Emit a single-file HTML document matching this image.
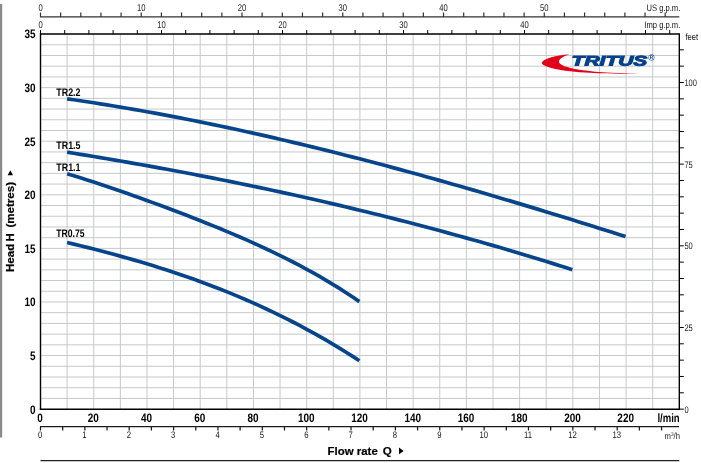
<!DOCTYPE html>
<html lang="en"><head><meta charset="utf-8"><title>TRITUS pump performance curves</title>
<style>html,body{margin:0;padding:0;background:#fff}svg{display:block}</style></head>
<body>
<svg width="701" height="463" viewBox="0 0 701 463" font-family="'Liberation Sans', sans-serif">
<rect width="701" height="463" fill="#fff"/>
<rect x="0" y="4" width="2.2" height="433.5" fill="#8a8a8a"/>
<path d="M67.12 34.05V409.15M93.73 34.05V409.15M120.35 34.05V409.15M146.97 34.05V409.15M173.59 34.05V409.15M200.20 34.05V409.15M226.82 34.05V409.15M253.44 34.05V409.15M280.05 34.05V409.15M306.67 34.05V409.15M333.29 34.05V409.15M359.90 34.05V409.15M386.52 34.05V409.15M413.14 34.05V409.15M439.76 34.05V409.15M466.37 34.05V409.15M492.99 34.05V409.15M519.61 34.05V409.15M546.22 34.05V409.15M572.84 34.05V409.15M599.46 34.05V409.15M626.07 34.05V409.15M652.69 34.05V409.15M40.50 398.43H679.31M40.50 387.71H679.31M40.50 376.99H679.31M40.50 366.28H679.31M40.50 355.56H679.31M40.50 344.84H679.31M40.50 334.13H679.31M40.50 323.41H679.31M40.50 312.69H679.31M40.50 301.98H679.31M40.50 291.26H679.31M40.50 280.54H679.31M40.50 269.82H679.31M40.50 259.11H679.31M40.50 248.39H679.31M40.50 237.67H679.31M40.50 226.96H679.31M40.50 216.24H679.31M40.50 205.52H679.31M40.50 194.81H679.31M40.50 184.09H679.31M40.50 173.37H679.31M40.50 162.65H679.31M40.50 151.94H679.31M40.50 141.22H679.31M40.50 130.50H679.31M40.50 119.79H679.31M40.50 109.07H679.31M40.50 98.35H679.31M40.50 87.63H679.31M40.50 76.92H679.31M40.50 66.20H679.31M40.50 55.48H679.31M40.50 44.77H679.31" stroke="#c7c8c9" stroke-width="1" fill="none"/>
<path d="M67.12 98.82L73.76 99.78L80.41 100.76L87.06 101.76L93.71 102.78L100.36 103.83L107.00 104.89L113.65 105.98L120.30 107.08L126.95 108.21L133.60 109.35L140.24 110.52L146.89 111.70L153.54 112.90L160.19 114.13L166.84 115.37L173.48 116.63L180.13 117.91L186.78 119.21L193.43 120.52L200.08 121.86L206.72 123.21L213.37 124.58L220.02 125.97L226.67 127.37L233.31 128.79L239.96 130.23L246.61 131.69L253.26 133.16L259.91 134.65L266.55 136.15L273.20 137.67L279.85 139.21L286.50 140.76L293.15 142.33L299.79 143.92L306.44 145.51L313.09 147.13L319.74 148.76L326.39 150.40L333.03 152.06L339.68 153.73L346.33 155.42L352.98 157.12L359.63 158.83L366.27 160.56L372.92 162.30L379.57 164.05L386.22 165.82L392.86 167.60L399.51 169.39L406.16 171.20L412.81 173.01L419.46 174.84L426.10 176.68L432.75 178.54L439.40 180.40L446.05 182.28L452.70 184.17L459.34 186.06L465.99 187.97L472.64 189.89L479.29 191.82L485.94 193.76L492.58 195.71L499.23 197.67L505.88 199.65L512.53 201.62L519.18 203.61L525.82 205.61L532.47 207.62L539.12 209.64L545.77 211.66L552.41 213.70L559.06 215.74L565.71 217.79L572.36 219.85L579.01 221.91L585.65 223.98L592.30 226.07L598.95 228.15L605.60 230.25L612.25 232.35L618.89 234.46L625.54 236.57" stroke="#06458c" stroke-width="3.7" fill="none" stroke-linejoin="round"/>
<path d="M67.12 152.17L73.76 153.24L80.41 154.31L87.06 155.40L93.71 156.50L100.35 157.60L107.00 158.72L113.65 159.85L120.29 160.99L126.94 162.14L133.59 163.31L140.24 164.48L146.88 165.66L153.53 166.86L160.18 168.07L166.83 169.29L173.47 170.52L180.12 171.76L186.77 173.02L193.41 174.29L200.06 175.57L206.71 176.86L213.36 178.16L220.00 179.48L226.65 180.81L233.30 182.15L239.95 183.50L246.59 184.87L253.24 186.25L259.89 187.65L266.53 189.05L273.18 190.47L279.83 191.91L286.48 193.35L293.12 194.81L299.77 196.29L306.42 197.77L313.07 199.27L319.71 200.79L326.36 202.32L333.01 203.86L339.65 205.42L346.30 206.99L352.95 208.58L359.60 210.18L366.24 211.80L372.89 213.43L379.54 215.07L386.18 216.73L392.83 218.41L399.48 220.10L406.13 221.80L412.77 223.52L419.42 225.26L426.07 227.01L432.72 228.78L439.36 230.56L446.01 232.36L452.66 234.18L459.30 236.01L465.95 237.85L472.60 239.72L479.25 241.59L485.89 243.49L492.54 245.40L499.19 247.33L505.84 249.28L512.48 251.24L519.13 253.22L525.78 255.21L532.42 257.23L539.07 259.26L545.72 261.30L552.37 263.37L559.01 265.45L565.66 267.55L572.31 269.67" stroke="#06458c" stroke-width="3.7" fill="none" stroke-linejoin="round"/>
<path d="M67.12 173.70L73.76 175.74L80.40 177.83L87.04 179.95L93.69 182.11L100.33 184.30L106.97 186.52L113.61 188.78L120.25 191.06L126.90 193.37L133.54 195.71L140.18 198.07L146.82 200.46L153.46 202.87L160.11 205.31L166.75 207.78L173.39 210.27L180.03 212.79L186.68 215.34L193.32 217.92L199.96 220.53L206.60 223.18L213.24 225.86L219.89 228.58L226.53 231.34L233.17 234.15L239.81 237.00L246.46 239.91L253.10 242.87L259.74 245.89L266.38 248.97L273.02 252.11L279.67 255.33L286.31 258.63L292.95 262.01L299.59 265.47L306.23 269.03L312.88 272.69L319.52 276.45L326.16 280.33L332.80 284.32L339.45 288.44L346.09 292.69L352.73 297.08L359.37 301.62" stroke="#06458c" stroke-width="3.7" fill="none" stroke-linejoin="round"/>
<path d="M67.12 242.51L73.76 244.11L80.40 245.73L87.04 247.39L93.69 249.07L100.33 250.79L106.97 252.54L113.61 254.32L120.25 256.14L126.90 258.00L133.54 259.89L140.18 261.83L146.82 263.82L153.46 265.85L160.11 267.92L166.75 270.05L173.39 272.22L180.03 274.45L186.68 276.73L193.32 279.07L199.96 281.46L206.60 283.91L213.24 286.43L219.89 289.00L226.53 291.65L233.17 294.35L239.81 297.13L246.46 299.98L253.10 302.89L259.74 305.88L266.38 308.95L273.02 312.09L279.67 315.31L286.31 318.61L292.95 321.99L299.59 325.45L306.23 329.01L312.88 332.64L319.52 336.37L326.16 340.19L332.80 344.10L339.45 348.10L346.09 352.20L352.73 356.40L359.37 360.69" stroke="#06458c" stroke-width="3.7" fill="none" stroke-linejoin="round"/>
<path d="M40.50 409.15V34.05H679.31V409.15" stroke="#000" stroke-width="1.4" fill="none" stroke-linejoin="miter"/>
<path d="M39.75 409.15H680.06" stroke="#000" stroke-width="1.5" fill="none"/>
<path d="M40.50 34.05v-4M64.70 34.05v-4M88.90 34.05v-4M113.10 34.05v-4M137.30 34.05v-4M161.50 34.05v-4M185.70 34.05v-4M209.90 34.05v-4M234.10 34.05v-4M258.30 34.05v-4M282.50 34.05v-4M306.70 34.05v-4M330.90 34.05v-4M355.10 34.05v-4M379.30 34.05v-4M403.50 34.05v-4M427.70 34.05v-4M451.90 34.05v-4M476.10 34.05v-4M500.30 34.05v-4M524.50 34.05v-4M548.70 34.05v-4M572.90 34.05v-4M597.10 34.05v-4M621.30 34.05v-4M645.50 34.05v-4M669.70 34.05v-4" stroke="#000" stroke-width="1" fill="none"/>
<path d="M40.00 16.9H679.31M40.50 16.9v-4.3M60.65 16.9v-4.3M80.80 16.9v-4.3M100.95 16.9v-4.3M121.10 16.9v-4.3M141.26 16.9v-4.3M161.41 16.9v-4.3M181.56 16.9v-4.3M201.71 16.9v-4.3M221.86 16.9v-4.3M242.01 16.9v-4.3M262.16 16.9v-4.3M282.31 16.9v-4.3M302.47 16.9v-4.3M322.62 16.9v-4.3M342.77 16.9v-4.3M362.92 16.9v-4.3M383.07 16.9v-4.3M403.22 16.9v-4.3M423.37 16.9v-4.3M443.52 16.9v-4.3M463.68 16.9v-4.3M483.83 16.9v-4.3M503.98 16.9v-4.3M524.13 16.9v-4.3M544.28 16.9v-4.3M564.43 16.9v-4.3M584.58 16.9v-4.3M604.73 16.9v-4.3M624.88 16.9v-4.3M645.04 16.9v-4.3M665.19 16.9v-4.3" stroke="#333" stroke-width="1.2" fill="none"/>
<path d="M40.00 426.6H679.11M40.50 426.6v3.8M62.68 426.6v3.8M84.86 426.6v3.8M107.04 426.6v3.8M129.22 426.6v3.8M151.40 426.6v3.8M173.59 426.6v3.8M195.77 426.6v3.8M217.95 426.6v3.8M240.13 426.6v3.8M262.31 426.6v3.8M284.49 426.6v3.8M306.67 426.6v3.8M328.85 426.6v3.8M351.03 426.6v3.8M373.21 426.6v3.8M395.39 426.6v3.8M417.57 426.6v3.8M439.76 426.6v3.8M461.94 426.6v3.8M484.12 426.6v3.8M506.30 426.6v3.8M528.48 426.6v3.8M550.66 426.6v3.8M572.84 426.6v3.8M595.02 426.6v3.8M617.20 426.6v3.8M639.38 426.6v3.8M661.56 426.6v3.8" stroke="#1c1c1c" stroke-width="1.25" fill="none"/>
<path d="M679.31 409.15h4.5M679.31 392.81h4.5M679.31 376.48h4.5M679.31 360.15h4.5M679.31 343.81h4.5M679.31 327.48h4.5M679.31 311.15h4.5M679.31 294.82h4.5M679.31 278.48h4.5M679.31 262.15h4.5M679.31 245.82h4.5M679.31 229.49h4.5M679.31 213.15h4.5M679.31 196.82h4.5M679.31 180.49h4.5M679.31 164.15h4.5M679.31 147.82h4.5M679.31 131.49h4.5M679.31 115.16h4.5M679.31 98.82h4.5M679.31 82.49h4.5M679.31 66.16h4.5M679.31 49.83h4.5" stroke="#000" stroke-width="1" fill="none"/>
<path d="M40.50 460.6H679.31" stroke="#222" stroke-width="1.1" fill="none"/>
<text transform="translate(35.50 413.55) rotate(0.03) scale(0.81 1)" font-size="12.3" font-weight="bold" font-style="normal" text-anchor="end" fill="#000">0</text>
<text transform="translate(35.50 359.96) rotate(0.03) scale(0.81 1)" font-size="12.3" font-weight="bold" font-style="normal" text-anchor="end" fill="#000">5</text>
<text transform="translate(35.50 306.38) rotate(0.03) scale(0.81 1)" font-size="12.3" font-weight="bold" font-style="normal" text-anchor="end" fill="#000">10</text>
<text transform="translate(35.50 252.79) rotate(0.03) scale(0.81 1)" font-size="12.3" font-weight="bold" font-style="normal" text-anchor="end" fill="#000">15</text>
<text transform="translate(35.50 199.21) rotate(0.03) scale(0.81 1)" font-size="12.3" font-weight="bold" font-style="normal" text-anchor="end" fill="#000">20</text>
<text transform="translate(35.50 145.62) rotate(0.03) scale(0.81 1)" font-size="12.3" font-weight="bold" font-style="normal" text-anchor="end" fill="#000">25</text>
<text transform="translate(35.50 92.03) rotate(0.03) scale(0.81 1)" font-size="12.3" font-weight="bold" font-style="normal" text-anchor="end" fill="#000">30</text>
<text transform="translate(35.50 38.45) rotate(0.03) scale(0.81 1)" font-size="12.3" font-weight="bold" font-style="normal" text-anchor="end" fill="#000">35</text>
<text transform="translate(40.10 422.00) rotate(0.03) scale(0.81 1)" font-size="12.3" font-weight="bold" font-style="normal" text-anchor="middle" fill="#000">0</text>
<text transform="translate(93.33 422.00) rotate(0.03) scale(0.81 1)" font-size="12.3" font-weight="bold" font-style="normal" text-anchor="middle" fill="#000">20</text>
<text transform="translate(146.57 422.00) rotate(0.03) scale(0.81 1)" font-size="12.3" font-weight="bold" font-style="normal" text-anchor="middle" fill="#000">40</text>
<text transform="translate(199.80 422.00) rotate(0.03) scale(0.81 1)" font-size="12.3" font-weight="bold" font-style="normal" text-anchor="middle" fill="#000">60</text>
<text transform="translate(253.04 422.00) rotate(0.03) scale(0.81 1)" font-size="12.3" font-weight="bold" font-style="normal" text-anchor="middle" fill="#000">80</text>
<text transform="translate(306.27 422.00) rotate(0.03) scale(0.81 1)" font-size="12.3" font-weight="bold" font-style="normal" text-anchor="middle" fill="#000">100</text>
<text transform="translate(359.50 422.00) rotate(0.03) scale(0.81 1)" font-size="12.3" font-weight="bold" font-style="normal" text-anchor="middle" fill="#000">120</text>
<text transform="translate(412.74 422.00) rotate(0.03) scale(0.81 1)" font-size="12.3" font-weight="bold" font-style="normal" text-anchor="middle" fill="#000">140</text>
<text transform="translate(465.97 422.00) rotate(0.03) scale(0.81 1)" font-size="12.3" font-weight="bold" font-style="normal" text-anchor="middle" fill="#000">160</text>
<text transform="translate(519.21 422.00) rotate(0.03) scale(0.81 1)" font-size="12.3" font-weight="bold" font-style="normal" text-anchor="middle" fill="#000">180</text>
<text transform="translate(572.44 422.00) rotate(0.03) scale(0.81 1)" font-size="12.3" font-weight="bold" font-style="normal" text-anchor="middle" fill="#000">200</text>
<text transform="translate(625.67 422.00) rotate(0.03) scale(0.81 1)" font-size="12.3" font-weight="bold" font-style="normal" text-anchor="middle" fill="#000">220</text>
<text transform="translate(679.70 422.00) rotate(0.03) scale(0.795 1)" font-size="12.0" font-weight="bold" font-style="normal" text-anchor="end" fill="#000">l/min</text>
<text transform="translate(40.10 438.20) rotate(0.03) scale(0.81 1)" font-size="9.5" font-weight="normal" font-style="normal" text-anchor="middle" fill="#151515">0</text>
<text transform="translate(84.46 438.20) rotate(0.03) scale(0.81 1)" font-size="9.5" font-weight="normal" font-style="normal" text-anchor="middle" fill="#151515">1</text>
<text transform="translate(128.82 438.20) rotate(0.03) scale(0.81 1)" font-size="9.5" font-weight="normal" font-style="normal" text-anchor="middle" fill="#151515">2</text>
<text transform="translate(173.19 438.20) rotate(0.03) scale(0.81 1)" font-size="9.5" font-weight="normal" font-style="normal" text-anchor="middle" fill="#151515">3</text>
<text transform="translate(217.55 438.20) rotate(0.03) scale(0.81 1)" font-size="9.5" font-weight="normal" font-style="normal" text-anchor="middle" fill="#151515">4</text>
<text transform="translate(261.91 438.20) rotate(0.03) scale(0.81 1)" font-size="9.5" font-weight="normal" font-style="normal" text-anchor="middle" fill="#151515">5</text>
<text transform="translate(306.27 438.20) rotate(0.03) scale(0.81 1)" font-size="9.5" font-weight="normal" font-style="normal" text-anchor="middle" fill="#151515">6</text>
<text transform="translate(350.63 438.20) rotate(0.03) scale(0.81 1)" font-size="9.5" font-weight="normal" font-style="normal" text-anchor="middle" fill="#151515">7</text>
<text transform="translate(394.99 438.20) rotate(0.03) scale(0.81 1)" font-size="9.5" font-weight="normal" font-style="normal" text-anchor="middle" fill="#151515">8</text>
<text transform="translate(439.36 438.20) rotate(0.03) scale(0.81 1)" font-size="9.5" font-weight="normal" font-style="normal" text-anchor="middle" fill="#151515">9</text>
<text transform="translate(483.72 438.20) rotate(0.03) scale(0.81 1)" font-size="9.5" font-weight="normal" font-style="normal" text-anchor="middle" fill="#151515">10</text>
<text transform="translate(528.08 438.20) rotate(0.03) scale(0.81 1)" font-size="9.5" font-weight="normal" font-style="normal" text-anchor="middle" fill="#151515">11</text>
<text transform="translate(572.44 438.20) rotate(0.03) scale(0.81 1)" font-size="9.5" font-weight="normal" font-style="normal" text-anchor="middle" fill="#151515">12</text>
<text transform="translate(616.80 438.20) rotate(0.03) scale(0.81 1)" font-size="9.5" font-weight="normal" font-style="normal" text-anchor="middle" fill="#151515">13</text>
<text transform="translate(680 439) rotate(0.03) scale(0.86 1)" font-size="9" text-anchor="end" fill="#1a1a1a">m<tspan font-size="5.5" dy="-3">3</tspan><tspan dy="3">/h</tspan></text>
<text transform="translate(40.50 11.20) rotate(0.03) scale(0.78 1)" font-size="9.8" font-weight="normal" font-style="normal" text-anchor="middle" fill="#222">0</text>
<text transform="translate(141.26 11.20) rotate(0.03) scale(0.78 1)" font-size="9.8" font-weight="normal" font-style="normal" text-anchor="middle" fill="#222">10</text>
<text transform="translate(242.01 11.20) rotate(0.03) scale(0.78 1)" font-size="9.8" font-weight="normal" font-style="normal" text-anchor="middle" fill="#222">20</text>
<text transform="translate(342.77 11.20) rotate(0.03) scale(0.78 1)" font-size="9.8" font-weight="normal" font-style="normal" text-anchor="middle" fill="#222">30</text>
<text transform="translate(443.52 11.20) rotate(0.03) scale(0.78 1)" font-size="9.8" font-weight="normal" font-style="normal" text-anchor="middle" fill="#222">40</text>
<text transform="translate(544.28 11.20) rotate(0.03) scale(0.78 1)" font-size="9.8" font-weight="normal" font-style="normal" text-anchor="middle" fill="#222">50</text>
<text transform="translate(680.30 11.00) rotate(0.03) scale(0.81 1)" font-size="9.4" font-weight="normal" font-style="normal" text-anchor="end" fill="#111">US g.p.m.</text>
<text transform="translate(40.50 28.10) rotate(0.03) scale(0.78 1)" font-size="9.8" font-weight="normal" font-style="normal" text-anchor="middle" fill="#222">0</text>
<text transform="translate(161.50 28.10) rotate(0.03) scale(0.78 1)" font-size="9.8" font-weight="normal" font-style="normal" text-anchor="middle" fill="#222">10</text>
<text transform="translate(282.50 28.10) rotate(0.03) scale(0.78 1)" font-size="9.8" font-weight="normal" font-style="normal" text-anchor="middle" fill="#222">20</text>
<text transform="translate(403.50 28.10) rotate(0.03) scale(0.78 1)" font-size="9.8" font-weight="normal" font-style="normal" text-anchor="middle" fill="#222">30</text>
<text transform="translate(524.50 28.10) rotate(0.03) scale(0.78 1)" font-size="9.8" font-weight="normal" font-style="normal" text-anchor="middle" fill="#222">40</text>
<text transform="translate(680.30 28.00) rotate(0.03) scale(0.81 1)" font-size="9.4" font-weight="normal" font-style="normal" text-anchor="end" fill="#111">Imp g.p.m.</text>
<text transform="translate(684.40 412.65) rotate(0.03) scale(0.79 1)" font-size="9.5" font-weight="normal" font-style="normal" text-anchor="start" fill="#222">0</text>
<text transform="translate(684.40 330.98) rotate(0.03) scale(0.79 1)" font-size="9.5" font-weight="normal" font-style="normal" text-anchor="start" fill="#222">25</text>
<text transform="translate(684.40 249.32) rotate(0.03) scale(0.79 1)" font-size="9.5" font-weight="normal" font-style="normal" text-anchor="start" fill="#222">50</text>
<text transform="translate(684.40 167.65) rotate(0.03) scale(0.79 1)" font-size="9.5" font-weight="normal" font-style="normal" text-anchor="start" fill="#222">75</text>
<text transform="translate(684.40 85.99) rotate(0.03) scale(0.79 1)" font-size="9.5" font-weight="normal" font-style="normal" text-anchor="start" fill="#222">100</text>
<text transform="translate(685.50 39.60) rotate(0.03) scale(0.81 1)" font-size="9.4" font-weight="normal" font-style="normal" text-anchor="start" fill="#111">feet</text>
<text transform="translate(56.30 95.80) rotate(0.03) scale(0.81 1)" font-size="11.0" font-weight="bold" font-style="normal" text-anchor="start" fill="#000">TR2.2</text>
<text transform="translate(56.30 149.00) rotate(0.03) scale(0.81 1)" font-size="11.0" font-weight="bold" font-style="normal" text-anchor="start" fill="#000">TR1.5</text>
<text transform="translate(56.30 170.80) rotate(0.03) scale(0.81 1)" font-size="11.0" font-weight="bold" font-style="normal" text-anchor="start" fill="#000">TR1.1</text>
<text transform="translate(56.30 236.80) rotate(0.03) scale(0.785 1)" font-size="11.0" font-weight="bold" font-style="normal" text-anchor="start" fill="#000">TR0.75</text>
<text transform="translate(13.7 272.0) rotate(-90)" font-size="10.8" font-weight="bold" fill="#000" stroke="#000" stroke-width="0.2" textLength="28.3" lengthAdjust="spacingAndGlyphs">Head</text>
<text transform="translate(13.7 241.6) rotate(-90)" font-size="10.8" font-weight="bold" fill="#000" stroke="#000" stroke-width="0.2" textLength="8.2" lengthAdjust="spacingAndGlyphs">H</text>
<text transform="translate(13.7 227.6) rotate(-90)" font-size="10.8" font-weight="bold" fill="#000" stroke="#000" stroke-width="0.2" textLength="45.6" lengthAdjust="spacingAndGlyphs">(metres)</text>
<path d="M7.6 175.2L10.3 170.3L13 175.2Z" fill="#000"/>
<text x="327.6" y="454.6" font-size="10.8" font-weight="bold" stroke="#000" stroke-width="0.2" textLength="50.2" lengthAdjust="spacingAndGlyphs">Flow rate</text>
<text x="382.7" y="454.6" font-size="10.8" font-weight="bold" stroke="#000" stroke-width="0.2" textLength="9" lengthAdjust="spacingAndGlyphs">Q</text>
<path d="M399 447.6L403.6 450.9L399 454.2Z" fill="#000"/>
<path d="M569.4 54.2C556 55.3 543.5 58.5 541.9 62.5C541 66.3 556 70.6 585 72.6C605 73.9 626 74.1 638.5 73.3C616 73.4 590 71.8 575 68.9C563 66.5 558 63.6 559 60.9C560 58.4 564 56 569.4 54.2Z" fill="#e2001a"/>
<text transform="translate(571.6 65.4) rotate(0.03) scale(1.5 1)" font-size="14.0" font-weight="bold" font-style="italic" fill="#06418c" stroke="#06418c" stroke-width="1.0" stroke-linejoin="miter">TRITUS</text>
<text x="648.2" y="61.1" font-size="8.6" font-weight="bold" fill="#06418c">®</text>
</svg>
</body></html>
